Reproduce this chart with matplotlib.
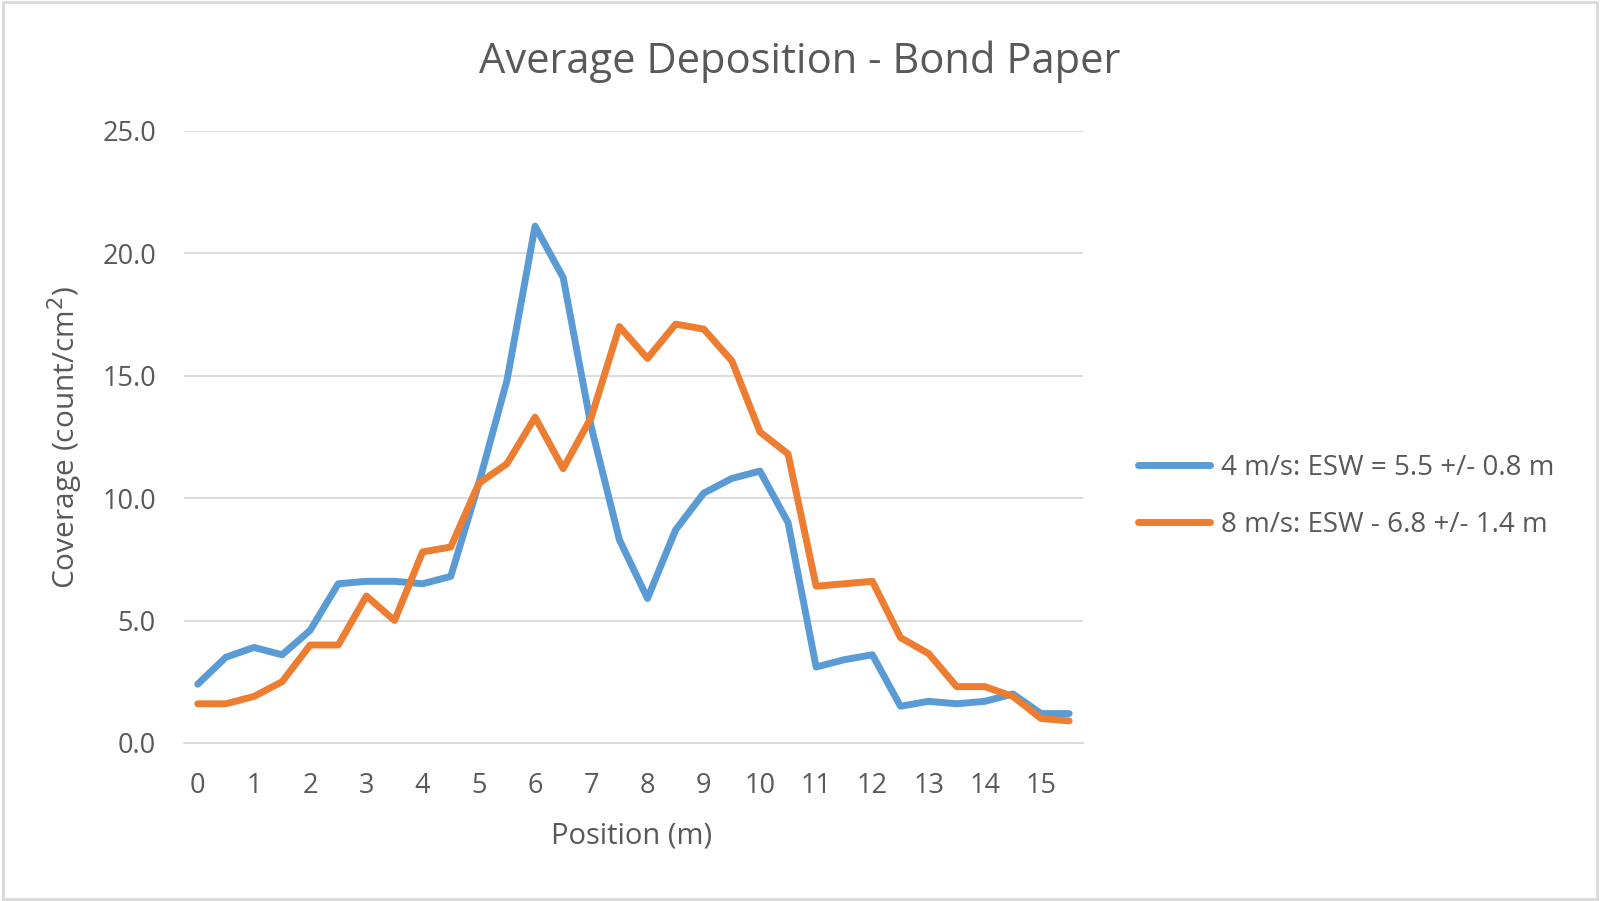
import matplotlib
matplotlib.use("Agg")
import matplotlib.pyplot as plt
import numpy as np

# positions along the swath (m)
positions = [0, 0.5, 1, 1.5, 2, 2.5, 3, 3.5, 4, 4.5, 5, 5.5, 6, 6.5, 7, 7.5,
             8, 8.5, 9, 9.5, 10, 10.5, 11, 11.5, 12, 12.5, 13, 13.5, 14, 14.5, 15, 15.5]

# coverage (count/cm2) at 4 m/s
cov_4ms = [2.4, 3.5, 3.9, 3.6, 4.6, 6.5, 6.6, 6.6, 6.5, 6.8, 10.6, 14.8, 21.1, 19.0, 12.9, 8.3,
           5.9, 8.7, 10.2, 10.8, 11.1, 9.0, 3.1, 3.4, 3.6, 1.5, 1.7, 1.6, 1.7, 2.0, 1.2, 1.2]

# coverage (count/cm2) at 8 m/s
cov_8ms = [1.6, 1.6, 1.9, 2.5, 4.0, 4.0, 6.0, 5.0, 7.8, 8.0, 10.6, 11.4, 13.3, 11.2, 13.3, 17.0,
           15.7, 17.1, 16.9, 15.6, 12.7, 11.8, 6.4, 6.5, 6.6, 4.3, 3.65, 2.3, 2.3, 1.9, 1.0, 0.9]

labels = ["4 m/s: ESW = 5.5 +/- 0.8 m", "8 m/s: ESW - 6.8 +/- 1.4 m"]

txt = "#595959"
plt.rcParams['font.family'] = ['Open Sans', 'DejaVu Sans']

fig = plt.figure(figsize=(16, 9.01), dpi=100)
ax = fig.add_axes([0.1148, 0.1754, 0.5622, 0.6796])

ax.plot(positions, cov_4ms, color="#5b9bd5", lw=5, label=labels[0], solid_capstyle="round")
ax.plot(positions, cov_8ms, color="#ed7d31", lw=5, label=labels[1], solid_capstyle="round")

ax.set_xlim(-0.25, 15.75)
ax.set_ylim(0, 25)
ax.set_xticks(range(0, 16))
ax.set_yticks(np.arange(0, 26, 5))
ax.set_yticklabels(["%.1f" % v for v in np.arange(0, 26, 5)])
ax.grid(axis="y", color="#d9d9d9", lw=1.3)
ax.set_axisbelow(True)
for s in ["top", "right", "left"]:
    ax.spines[s].set_visible(False)
ax.spines["bottom"].set_color("#d9d9d9")
ax.spines["bottom"].set_linewidth(1.3)
ax.tick_params(length=0, labelsize=19.5, colors=txt)
ax.tick_params(axis="x", pad=21)
ax.tick_params(axis="y", pad=20)

fig.text(0.5, 0.932, "Average Deposition - Bond Paper", fontsize=30, color=txt,
         ha="center", va="center")
fig.text(0.395, 0.072, "Position (m)", fontsize=21, color=txt, ha="center", va="center")
fig.text(0.041, 0.515, "Coverage (count/cm$^2$)", fontsize=21.5, color=txt,
         ha="center", va="center", rotation=90)

fig.legend(loc="center left", bbox_to_anchor=(0.711, 0.449), frameon=False,
           fontsize=20, labelcolor=txt, handlelength=2.6, handletextpad=0.4,
           labelspacing=1.05, borderpad=0, borderaxespad=0)

# light frame around the whole chart
fig.patches.append(plt.Rectangle((0.002, 0.002), 0.996, 0.996, transform=fig.transFigure,
                                 fill=False, edgecolor="#d9d9d9", lw=2))

fig.savefig("out.png", dpi=100, facecolor="white")
